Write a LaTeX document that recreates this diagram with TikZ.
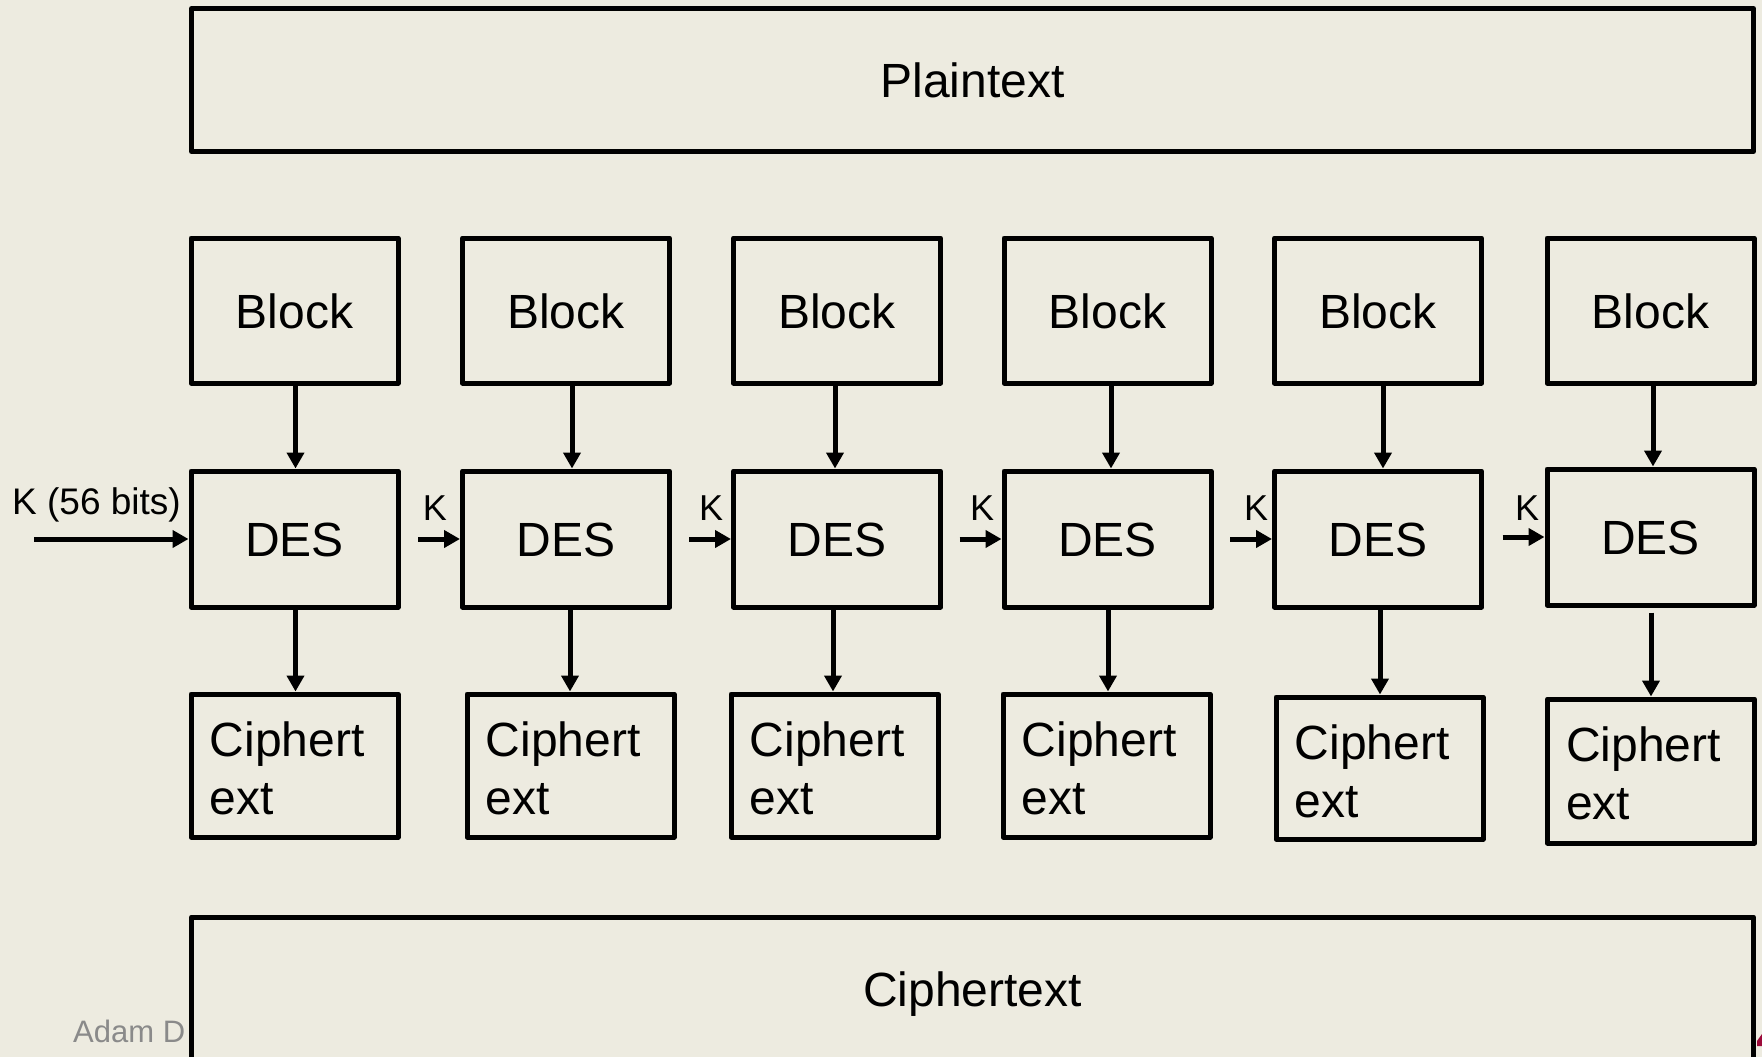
\documentclass[tikz,border=0pt]{standalone}
\usepackage{fontspec}
\setmainfont{Liberation Sans}
\usetikzlibrary{arrows.meta}
\definecolor{paper}{RGB}{237,235,224}
\definecolor{footgray}{RGB}{138,138,138}
\definecolor{markred}{RGB}{156,10,58}

\begin{document}
\begin{tikzpicture}[x=1pt,y=-1pt,
  box/.style={draw=black, line width=5pt, line join=round, fill=paper, inner sep=0pt},
  big/.style={font=\fontsize{48}{58}\selectfont, text height=35pt, text depth=0pt},
  unit/.style={box, big, minimum width=207pt},
  wide/.style={box, big, minimum width=1562pt, minimum height=143pt},
  flow/.style={line width=5pt, -{Triangle[length=16pt,width=17pt]}},
  keytxt/.style={font=\fontsize{36}{43}\selectfont, anchor=base, inner sep=0pt},
  celltxt/.style={font=\fontsize{48}{58}\selectfont, align=left, inner sep=0pt, anchor=north west},
]
\useasboundingbox (0,0) rectangle (1762,1057);
\clip (0,0) rectangle (1762,1057);
\fill[paper] (0,0) rectangle (1762,1057);

% footer, partly hidden behind the output bar
\node[font=\fontsize{31}{37}\selectfont, text=footgray, anchor=base west, inner sep=0pt]
  (author) at (73,1042) {Adam D};

% input and output bars
\node[wide] (plain) at (972.5,80) {Plaintext};
\node[wide] (cipher) at (972.5,988.5) {Ciphertext};

% one column per block: block, DES unit, ciphertext cell, and the x of its two arrows
% \i / block-DES centre x / DES y / cell centre x / cell y / cell h / upper arrow x / lower arrow x
\foreach \i/\bx/\dy/\cx/\cy/\ch/\ax/\bxx in {
    1/294.5/539/294.5/765.5/143/295.5/295.5,
    2/566/539/570.5/765.5/143/572/570,
    3/837/539/834.5/765.5/143/835/833,
    4/1107.5/539/1106.5/765.5/143/1111/1108,
    5/1378/539/1379.5/768/142/1383/1380,
    6/1650.5/537/1651/771/144/1653/1651} {
  \node[unit, minimum height=145pt] (b\i) at (\bx,310.5) {Block};
  \node[unit, minimum height=136pt] (d\i) at (\bx,\dy) {DES};
  \node[box, minimum width=207pt, minimum height=\ch pt] (c\i) at (\cx,\cy) {};
  \node[celltxt] (t\i) at ([xshift=21pt,yshift=-30pt]c\i.north west) {Ciphert\\ext};
  \coordinate (ua\i) at (\ax,0);
  \coordinate (la\i) at (\bxx,0);
  \draw[flow] (b\i.south -| ua\i) -- (d\i.north -| ua\i);
}

% DES outputs to ciphertext cells
\foreach \i in {1,...,5}
  \draw[flow] (d\i.south -| la\i) -- (c\i.north -| la\i);
\draw[flow] ([yshift=-5pt]d6.south -| la6) -- (c6.north -| la6);

% key input
\coordinate (kin) at (34,539);
\draw[flow] (kin) -- (d1.west);
\node[font=\fontsize{37}{44}\selectfont, anchor=base west, inner sep=0pt]
  (klab) at (12,514) {K (56 bits)};

% key passed on to every following unit
\foreach \i/\kx in {2/435,3/711,4/982,5/1256,6/1527} {
  \draw[flow] ([xshift=-42pt]d\i.west) -- (d\i.west);
  \node[keytxt] (k\i) at (\kx,520) {K};
}

% small mark at the lower right corner
\fill[markred] (1757,1041) -- (1762,1034) -- (1762,1046) -- (1757,1046) -- cycle;
\end{tikzpicture}
\end{document}
